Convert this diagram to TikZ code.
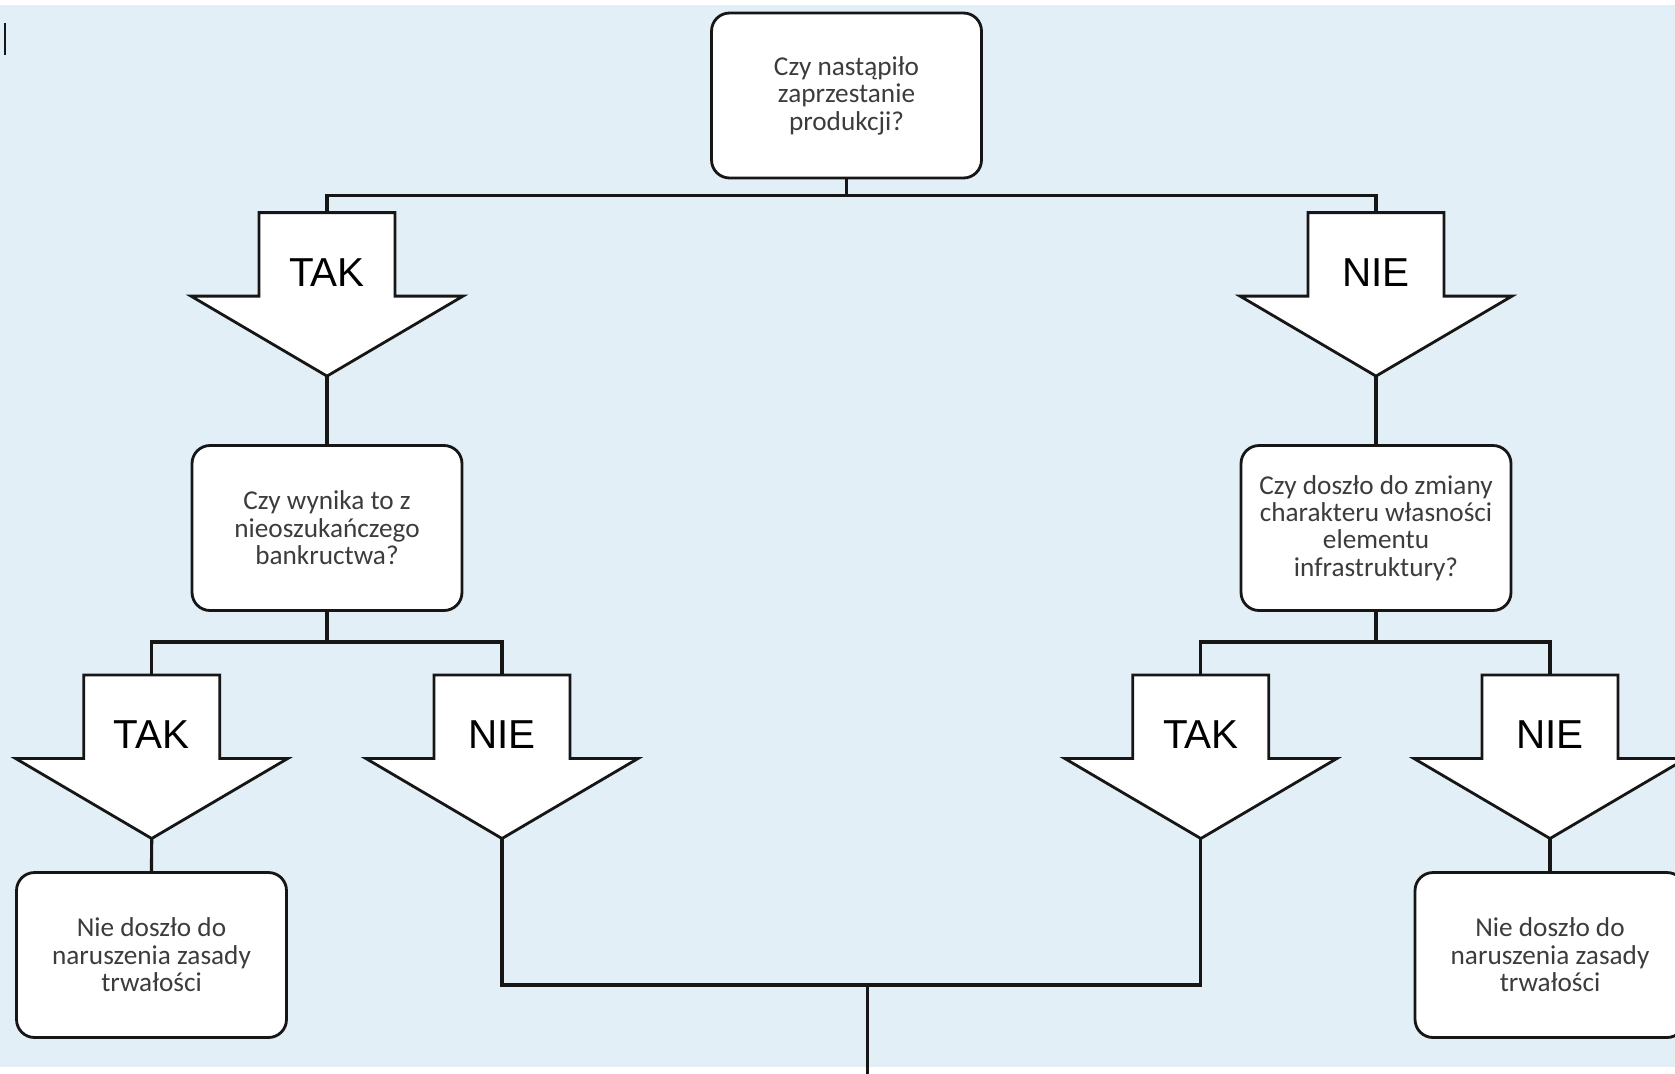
\documentclass[tikz,border=0pt]{standalone}
\usepackage{fontspec}
\setmainfont{Carlito}
\newfontfamily\arrowfont{Liberation Sans}
\usetikzlibrary{positioning}

\definecolor{bgblue}{RGB}{226,239,246}
\definecolor{inkline}{RGB}{22,22,22}
\definecolor{boxtext}{RGB}{60,60,60}

% arrow with an answer: name, x, y of the top, text
\newcommand{\decarrow}[4]{%
  \filldraw[arrowline] (#2-68,#3) -- (#2+68,#3) -- (#2+68,#3+83.5) -- (#2+136,#3+83.5)
    -- (#2,#3+163.5) -- (#2-136,#3+83.5) -- (#2-68,#3+83.5) -- cycle;
  \node[answer] (#1) at (#2,#3+59.5) {#4};
  \coordinate (#1top) at (#2,#3);
  \coordinate (#1tip) at (#2,#3+163.5);
}

\begin{document}
\begin{tikzpicture}[x=0.02cm,y=-0.02cm,
  question/.style={draw=inkline,fill=white,line width=1.6pt,rounded corners=0.36cm,
    minimum width=5.4cm,minimum height=3.3cm,inner sep=0pt,align=center,
    text=boxtext,font=\fontsize{15.5}{15.6}\selectfont},
  arrowline/.style={draw=inkline,fill=white,line width=1.6pt,line join=miter},
  answer/.style={inner sep=0pt,font=\arrowfont\fontsize{23}{23}\selectfont},
  link/.style={draw=inkline,line width=1.8pt}]

\useasboundingbox (0,0) rectangle (1675,1073);
\clip (0,0) rectangle (1675,1073);
\fill[white] (0,0) rectangle (1675,1073);
\fill[bgblue] (0,5) rectangle (1675,1067);
\draw[inkline,line width=1.2pt] (5,23) -- (5,55);

% questions
\node[question] (q1) at (846.5,95.5) {Czy nastąpiło\\zaprzestanie\\produkcji?};
\node[question] (q2) at (327,528) {Czy wynika to z\\nieoszukańczego\\bankructwa?};
\node[question] (q3) at (1376,528) {Czy doszło do zmiany\\charakteru własności\\elementu\\infrastruktury?};
\node[question] (r1) at (151.5,955) {Nie doszło do\\naruszenia zasady\\trwałości};
\node[question] (r2) at (1550,955) {Nie doszło do\\naruszenia zasady\\trwałości};

% answers
\decarrow{a1}{327}{212.6}{TAK}
\decarrow{a2}{1376}{212.6}{NIE}
\decarrow{a3}{151.7}{675}{TAK}
\decarrow{a4}{502}{675}{NIE}
\decarrow{a5}{1200.8}{675}{TAK}
\decarrow{a6}{1550}{675}{NIE}

\coordinate (j1) at (846.5,195.5);
\coordinate (j2) at (327,642);
\coordinate (j3) at (1376,642);
\coordinate (j4) at (867.5,985);
\coordinate (out) at (867.5,1080);

% connectors
\draw[link] (q1.south) -- (j1);
\draw[link] (a1top) |- (j1) -| (a2top);
\draw[link] (a1tip) -- (q2.north);
\draw[link] (a2tip) -- (q3.north);
\draw[link] (q2.south) -- (j2);
\draw[link] (a3top) |- (j2) -| (a4top);
\draw[link] (q3.south) -- (j3);
\draw[link] (a5top) |- (j3) -| (a6top);
\draw[link] (a3tip) -- (r1.north);
\draw[link] (a6tip) -- (r2.north);
\draw[link] (a4tip) |- (j4) -| (a5tip);
\draw[link] (j4) -- (out);

\end{tikzpicture}
\end{document}
